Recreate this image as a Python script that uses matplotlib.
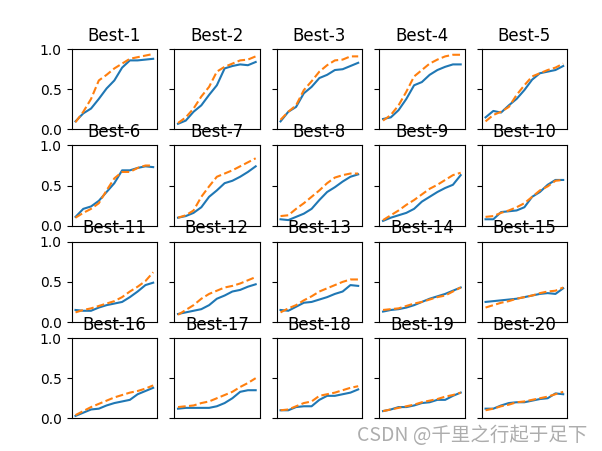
import numpy as np
import matplotlib
matplotlib.use("Agg")
import matplotlib.pyplot as plt

# values, 11 samples per curve
titles = ["Best-%d" % i for i in range(1, 21)]
steps = np.arange(11)

solid_row1 = [
    [0.10, 0.20, 0.26, 0.38, 0.51, 0.61, 0.77, 0.86, 0.86, 0.87, 0.88],
    [0.07, 0.11, 0.22, 0.30, 0.43, 0.55, 0.76, 0.79, 0.81, 0.80, 0.84],
    [0.10, 0.22, 0.28, 0.45, 0.53, 0.64, 0.68, 0.74, 0.75, 0.79, 0.83],
    [0.13, 0.15, 0.24, 0.38, 0.55, 0.59, 0.68, 0.74, 0.78, 0.81, 0.81],
    [0.15, 0.23, 0.21, 0.30, 0.38, 0.49, 0.62, 0.70, 0.72, 0.74, 0.79],
]
dashed_row1 = [
    [0.09, 0.22, 0.38, 0.61, 0.68, 0.76, 0.82, 0.88, 0.90, 0.92, 0.94],
    [0.08, 0.15, 0.26, 0.41, 0.53, 0.72, 0.78, 0.82, 0.86, 0.87, 0.91],
    [0.12, 0.22, 0.30, 0.49, 0.60, 0.72, 0.80, 0.86, 0.87, 0.91, 0.91],
    [0.11, 0.18, 0.30, 0.47, 0.66, 0.74, 0.82, 0.87, 0.91, 0.93, 0.93],
    [0.10, 0.18, 0.22, 0.28, 0.43, 0.55, 0.66, 0.70, 0.74, 0.77, 0.82],
]
solid_row2 = [
    [0.11, 0.21, 0.24, 0.31, 0.42, 0.53, 0.69, 0.69, 0.72, 0.74, 0.73],
    [0.10, 0.12, 0.16, 0.23, 0.36, 0.44, 0.53, 0.56, 0.61, 0.67, 0.74],
    [0.08, 0.07, 0.11, 0.15, 0.21, 0.32, 0.42, 0.48, 0.55, 0.61, 0.64],
    [0.06, 0.10, 0.13, 0.16, 0.21, 0.30, 0.36, 0.42, 0.47, 0.51, 0.63],
    [0.08, 0.08, 0.17, 0.18, 0.19, 0.23, 0.36, 0.42, 0.51, 0.57, 0.57],
]
dashed_row2 = [
    [0.10, 0.16, 0.21, 0.28, 0.44, 0.59, 0.67, 0.67, 0.72, 0.75, 0.75],
    [0.10, 0.13, 0.19, 0.36, 0.49, 0.61, 0.65, 0.69, 0.74, 0.79, 0.84],
    [0.12, 0.13, 0.21, 0.28, 0.36, 0.44, 0.53, 0.60, 0.63, 0.65, 0.65],
    [0.07, 0.13, 0.19, 0.26, 0.32, 0.39, 0.46, 0.51, 0.57, 0.63, 0.66],
    [0.11, 0.12, 0.16, 0.19, 0.23, 0.28, 0.36, 0.44, 0.49, 0.56, 0.57],
]
solid_row3 = [
    [0.15, 0.14, 0.14, 0.18, 0.21, 0.23, 0.25, 0.31, 0.38, 0.46, 0.49],
    [0.10, 0.12, 0.14, 0.16, 0.21, 0.29, 0.33, 0.38, 0.40, 0.44, 0.47],
    [0.15, 0.14, 0.19, 0.24, 0.25, 0.28, 0.31, 0.35, 0.38, 0.46, 0.45],
    [0.13, 0.15, 0.16, 0.18, 0.21, 0.25, 0.29, 0.32, 0.35, 0.39, 0.43],
    [0.25, 0.26, 0.27, 0.28, 0.29, 0.31, 0.33, 0.35, 0.36, 0.35, 0.42],
]
dashed_row3 = [
    [0.12, 0.15, 0.17, 0.20, 0.23, 0.26, 0.31, 0.38, 0.44, 0.51, 0.62],
    [0.09, 0.15, 0.21, 0.29, 0.35, 0.39, 0.43, 0.45, 0.48, 0.52, 0.56],
    [0.12, 0.17, 0.21, 0.27, 0.32, 0.38, 0.42, 0.46, 0.50, 0.53, 0.53],
    [0.15, 0.16, 0.17, 0.20, 0.23, 0.25, 0.28, 0.31, 0.33, 0.38, 0.43],
    [0.18, 0.21, 0.24, 0.26, 0.29, 0.31, 0.33, 0.36, 0.38, 0.39, 0.43],
]
solid_row4 = [
    [0.03, 0.07, 0.11, 0.12, 0.16, 0.19, 0.21, 0.23, 0.30, 0.34, 0.38],
    [0.12, 0.13, 0.13, 0.13, 0.13, 0.15, 0.19, 0.25, 0.33, 0.35, 0.35],
    [0.10, 0.10, 0.14, 0.15, 0.15, 0.23, 0.28, 0.28, 0.30, 0.32, 0.36],
    [0.09, 0.11, 0.14, 0.14, 0.16, 0.19, 0.20, 0.23, 0.23, 0.28, 0.32],
    [0.12, 0.12, 0.16, 0.19, 0.20, 0.20, 0.22, 0.24, 0.25, 0.31, 0.30],
]
dashed_row4 = [
    [0.04, 0.09, 0.14, 0.18, 0.22, 0.26, 0.29, 0.32, 0.34, 0.37, 0.41],
    [0.14, 0.15, 0.16, 0.19, 0.21, 0.25, 0.29, 0.33, 0.39, 0.44, 0.50],
    [0.10, 0.11, 0.15, 0.19, 0.21, 0.28, 0.30, 0.32, 0.35, 0.38, 0.40],
    [0.09, 0.11, 0.13, 0.15, 0.17, 0.20, 0.22, 0.24, 0.27, 0.29, 0.32],
    [0.10, 0.12, 0.15, 0.17, 0.20, 0.21, 0.23, 0.25, 0.27, 0.30, 0.33],
]

solid = solid_row1 + solid_row2 + solid_row3 + solid_row4
dashed = dashed_row1 + dashed_row2 + dashed_row3 + dashed_row4

fig, axes = plt.subplots(4, 5, sharey=True, figsize=(6.02, 4.51), dpi=100)
fig.subplots_adjust(left=0.119, right=0.942, bottom=0.0725, top=0.891,
                    wspace=0.2, hspace=0.2)

for i, ax in enumerate(axes.flat):
    ax.plot(steps, solid[i], color="#1f77b4")
    ax.plot(steps, dashed[i], color="#ff7f0e", linestyle="--")
    ax.set_title(titles[i])
    ax.set_ylim(0, 1)
    ax.set_xticks([])

# watermark
fig.text(0.975, 0.012, "CSDN @千里之行起于足下", ha="right", va="bottom",
         fontsize=14, color="#999999", alpha=0.8,
         family=["Noto Sans CJK SC", "DejaVu Sans"])

plt.savefig("out.png", dpi=100)
